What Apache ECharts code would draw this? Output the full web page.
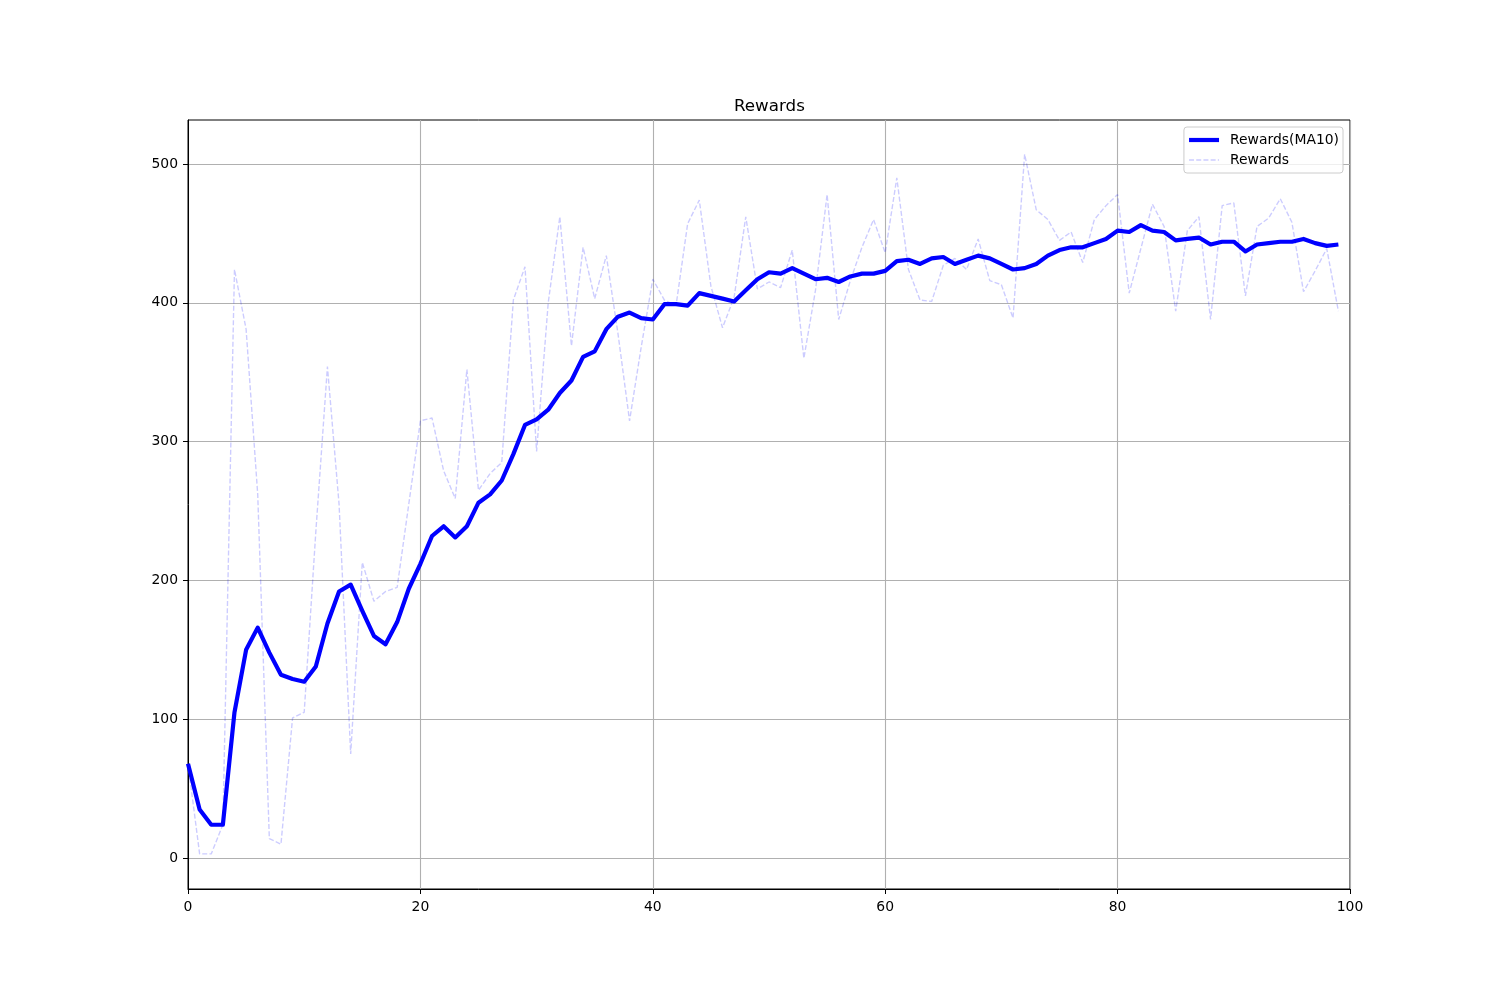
<!DOCTYPE html>
<html>
<head>
<meta charset="utf-8">
<script src="https://cdn.jsdelivr.net/npm/echarts@6/dist/echarts.min.js"></script>
<style>
html,body{margin:0;padding:0;background:#fff;}
#chart{width:1500px;height:1000px;}
</style>
</head>
<body>
<div id="chart"></div>
<script>
const titleText = 'Rewards';
const maName = 'Rewards(MA10)';
const rawName = 'Rewards';
const xTicks = [0, 20, 40, 60, 80, 100];
const yTicks = [0, 100, 200, 300, 400, 500];
const maRewards = [
  68,35,24,24,105,150,166,148,132,129,
  127,138,169,192,197,178,160,154,170,194,
  212,232,239,231,239,256,262,272,291,312,
  316,323,335,344,361,365,381,390,393,389,
  388,399,399,398,407,405,403,401,409,417,
  422,421,425,421,417,418,415,419,421,421,
  423,430,431,428,432,433,428,431,434,432,
  428,424,425,428,434,438,440,440,443,446,
  452,451,456,452,451,445,446,447,442,444,
  444,437,442,443,444,444,446,443,441,442
];
const rawRewards = [
  68,3,3,24,424,381,262,14,10,101,
  105,235,354,255,75,213,185,192,195,255,
  315,317,279,259,352,265,277,285,402,426,
  293,400,462,369,440,403,434,378,315,368,
  417,402,398,457,474,412,382,404,462,410,
  415,411,438,360,409,478,388,416,440,460,
  436,490,424,402,401,427,432,424,446,416,
  413,389,507,467,460,445,451,429,460,470,
  478,407,439,471,455,394,452,462,388,470,
  472,405,455,461,475,458,408,423,439,394
];

const font = 'DejaVu Sans';
const chart = echarts.init(document.getElementById('chart'), null, {renderer: 'canvas'});
const toPairs = arr => arr.map((v, i) => [i, v]);

chart.setOption({
  animation: false,
  backgroundColor: '#ffffff',
  textStyle: {fontFamily: font},
  title: {
    text: titleText,
    left: 734,
    top: 98,
    padding: 0,
    textStyle: {fontFamily: font, fontSize: 16.7, fontWeight: 'normal', color: '#000'}
  },
  grid: {
    left: 188, top: 120, right: 150, bottom: 111,
    show: true, borderColor: '#000', borderWidth: 1, backgroundColor: 'transparent'
  },
  legend: {
    data: [
      {name: maName, itemStyle: {opacity: 0}, lineStyle: {width: 4.2, color: '#0000ff', type: 'solid'}},
      {name: rawName, itemStyle: {opacity: 0}, lineStyle: {width: 1.4, color: 'rgba(0,0,255,0.2)', type: [5, 2.2]}}
    ],
    orient: 'vertical',
    right: 157,
    top: 127,
    itemWidth: 30,
    itemHeight: 14,
    itemGap: 6,
    padding: [6, 4, 6, 3],
    backgroundColor: 'rgba(255,255,255,0.8)',
    borderColor: '#cccccc',
    borderWidth: 1,
    borderRadius: 3,
    textStyle: {fontFamily: font, fontSize: 13.9, color: '#000', padding: [0, 0, 0, 6]}
  },
  xAxis: {
    type: 'value',
    min: 0, max: 100,
    axisLine: {show: true, onZero: false, lineStyle: {color: '#000', width: 1}},
    axisTick: {show: true, inside: false, length: 5, lineStyle: {color: '#000'}, customValues: xTicks},
    axisLabel: {show: true, margin: 11, color: '#000', fontFamily: font, fontSize: 13.9, customValues: xTicks},
    splitLine: {show: true, lineStyle: {color: '#b0b0b0', width: 1.1}}
  },
  yAxis: {
    type: 'value',
    min: -22.3, max: 531.7,
    axisLine: {show: true, onZero: false, lineStyle: {color: '#000', width: 1}},
    axisTick: {show: true, inside: false, length: 5, lineStyle: {color: '#000'}, customValues: yTicks},
    axisLabel: {show: true, margin: 10, color: '#000', fontFamily: font, fontSize: 13.9, customValues: yTicks},
    splitLine: {show: true, lineStyle: {color: '#b0b0b0', width: 1.1}}
  },
  series: [
    {
      name: rawName,
      type: 'line',
      data: toPairs(rawRewards),
      symbol: 'none',
      z: 2,
      lineStyle: {color: 'rgba(0,0,255,0.2)', width: 1.4, type: [5, 2.2]},
      itemStyle: {color: 'rgba(0,0,255,0.2)'}
    },
    {
      name: maName,
      type: 'line',
      data: toPairs(maRewards),
      symbol: 'none',
      z: 3,
      lineStyle: {color: '#0000ff', width: 4.2, join: 'round', cap: 'butt'},
      itemStyle: {color: '#0000ff'}
    }
  ]
});
</script>
</body>
</html>
